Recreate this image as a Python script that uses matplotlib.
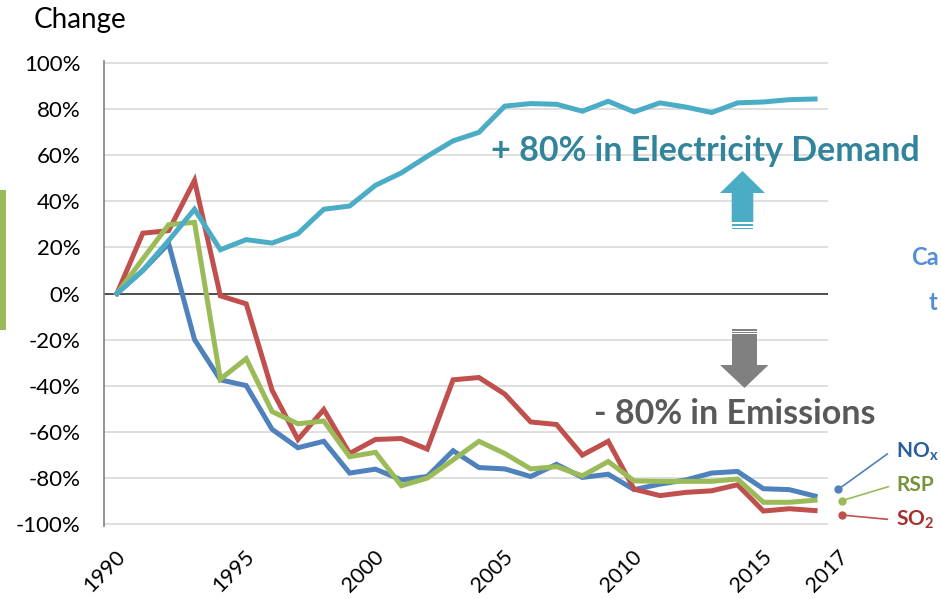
import matplotlib
matplotlib.use("Agg")
import matplotlib.pyplot as plt
from matplotlib.patches import Polygon, Rectangle
import matplotlib.transforms as mtransforms

plt.rcParams['font.family'] = ['Lato', 'DejaVu Sans']

# data (change vs 1990, %)
years = list(range(1990, 2018))
electricity = [0, 10, 23, 36.6, 19, 23.4, 21.9, 26, 36.6, 38, 47, 52.4, 59.6, 66.3,
               70, 81.4, 82.5, 82.2, 79.2, 83.5, 78.9, 82.8, 81, 78.6, 82.8, 83.2, 84.2, 84.5]
nox = [0, 10, 21.7, -20, -37.5, -40, -59, -67, -64.2, -78, -76.3, -81, -79.5, -68.3,
       -75.6, -76.2, -79.5, -74.2, -79.9, -78.5, -85.2, -82.8, -81, -78, -77.3, -84.8, -85.2, -88]
so2 = [0, 26.2, 27.3, 49.1, -1, -4.5, -42, -63.4, -50.4, -69.5, -63.4, -63, -67.6, -37.5,
       -36.5, -43.7, -55.8, -56.9, -70.2, -64.2, -85, -87.8, -86.4, -85.7, -83.1, -94.5, -93.5, -94.3]
rsp = [0, 15, 29.9, 30.9, -37.2, -28.3, -51.3, -56.6, -55.4, -70.9, -69, -83.5, -80.2, -72.3,
       -64.2, -69.5, -76.2, -75.2, -79.2, -73, -81.4, -81.6, -81.6, -81.6, -80.6, -90.7, -90.7, -89.8]
yticks = list(range(-100, 101, 20))
xtick_years = [1990, 1995, 2000, 2005, 2010, 2015, 2017]

W, H = 941, 599
fig = plt.figure(figsize=(W / 100, H / 100), dpi=100)
ax = fig.add_axes([104 / W, 1 - 526 / H, (828 - 104) / W, (526 - 61) / H])

def fx(px):
    return px / W

def fy(py):
    return 1 - py / H

# gridlines
for v in yticks:
    if v == 0:
        continue
    ax.axhline(v, color='#D9D9D9', lw=1.2, zorder=0)
ax.axhline(0, color='#404040', lw=1.3, zorder=1)

lw = 3.6
ax.plot(years, nox, color='#4F81BD', lw=lw, zorder=2, solid_joinstyle='miter')
ax.plot(years, so2, color='#C0504D', lw=lw, zorder=3, solid_joinstyle='miter')
ax.plot(years, rsp, color='#9BBB59', lw=lw, zorder=4, solid_joinstyle='miter')
ax.plot(years, electricity, color='#4BACC6', lw=lw, zorder=5, solid_joinstyle='miter')

ax.set_xlim(1989.5, 2017.5)
ax.set_ylim(-101, 101)
ax.set_yticks(yticks)
ax.set_yticklabels([f"{v}%" for v in yticks], fontsize=16)
ax.set_xticks(xtick_years)
ax.set_xticklabels([str(y) for y in xtick_years], fontsize=15.5, rotation=45,
                   ha='right', va='center', rotation_mode='anchor')
ax.tick_params(length=0)
ax.tick_params(axis='y', pad=17)
ax.tick_params(axis='x', pad=20)
for s in ['top', 'right', 'bottom']:
    ax.spines[s].set_visible(False)
ax.spines['left'].set_color('#808080')
ax.spines['left'].set_linewidth(1.2)

# shift labels a little right, last one by a full category
labs = ax.get_xticklabels()
for i, lab in enumerate(labs):
    dx = 0.30 if i == len(labs) - 1 else 0.05
    lab.set_transform(lab.get_transform() + mtransforms.ScaledTranslation(dx, 0, fig.dpi_scale_trans))

fig.text(fx(34), fy(20), "Change", fontsize=20, va='center', ha='left')

# annotations
fig.text(fx(491), fy(151), "+ 80% in Electricity Demand", fontsize=24.5, fontweight='bold',
         color='#31849B', va='center', ha='left')
fig.text(fx(594), fy(414), "- 80% in Emissions", fontsize=24.5, fontweight='bold',
         color='#595959', va='center', ha='left')

def poly(pts, color):
    fig.patches.append(Polygon([(fx(x), fy(y)) for x, y in pts], closed=True,
                               transform=fig.transFigure, color=color, lw=0))

# up arrow
poly([(742.5, 171), (765, 193), (753.3, 193), (753.3, 222), (731.7, 222), (731.7, 193), (720, 193)], '#4BACC6')
poly([(731.7, 224), (753.3, 224), (753.3, 225.5), (731.7, 225.5)], '#4BACC6')
poly([(731.7, 227.5), (753.3, 227.5), (753.3, 229), (731.7, 229)], '#4BACC6')
# down arrow
poly([(744.5, 388), (768.5, 365), (757, 365), (757, 334), (732, 334), (732, 365), (720, 365)], '#808080')
poly([(732, 329), (757, 329), (757, 330.5), (732, 330.5)], '#808080')
poly([(732, 331.8), (757, 331.8), (757, 333), (732, 333)], '#808080')

# legend labels
legend = [("NO$_\\mathregular{x}$", '#4F81BD', '#2A5E9C', (838.3, 489.3), (887.3, 454), 452),
          ("RSP", '#9BBB59', '#77933C', (841.7, 500.7), (888.3, 486.7), 485),
          ("SO$_\\mathregular{2}$", '#C0504D', '#A5302D', (841.7, 515), (887.3, 519.3), 520)]
for txt, lc, tc, (x0, y0), (x1, y1), ty in legend:
    fig.lines.append(plt.Line2D([fx(x0), fx(x1)], [fy(y0), fy(y1)], color=lc, lw=1.2,
                                transform=fig.transFigure))
    fig.lines.append(plt.Line2D([fx(x0)], [fy(y0)], marker='o', ms=5, color=lc,
                                transform=fig.transFigure))
    fig.text(fx(896), fy(ty), txt, fontsize=15, fontweight='bold', color=tc, va='center', ha='left')

# cropped slide fragments
fig.patches.append(Rectangle((0, fy(330)), fx(6), (330 - 190) / H, transform=fig.transFigure,
                             color='#9BBB59', lw=0))
fig.text(fx(911), fy(257), "Ca", fontsize=17, fontweight='bold', color='#558ED5', va='center', ha='left')
fig.text(fx(929), fy(303), "t", fontsize=17, fontweight='bold', color='#558ED5', va='center', ha='left')

fig.savefig("out.png", dpi=100)
